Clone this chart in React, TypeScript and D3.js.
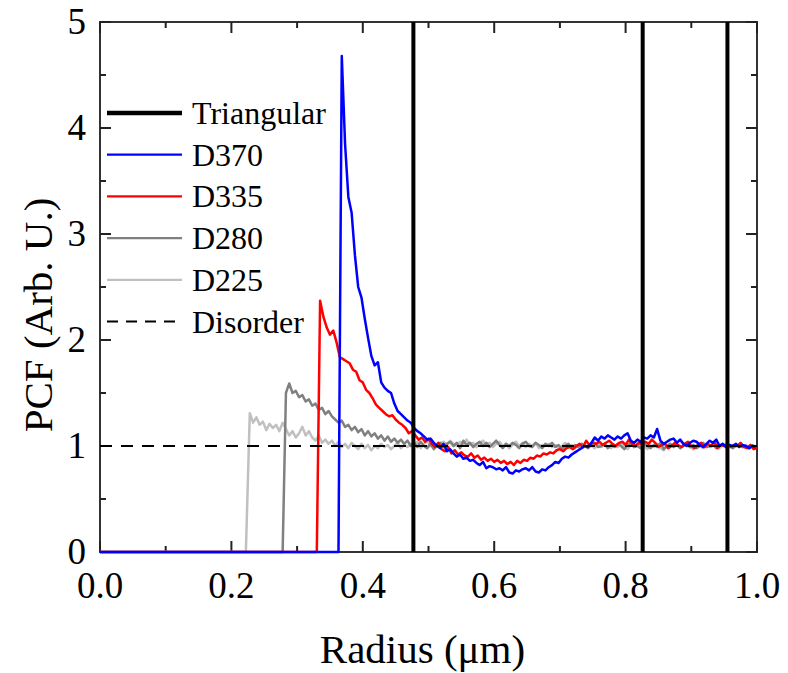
import React from "react";
import * as d3 from "d3";

const W = 788;
const H = 673;
const STEP = 0.005;

// Triangular lattice peaks (vertical lines), radius in µm
const triangularPeaks = [0.477, 0.826, 0.955];
const disorderLevel = 1;

const xTicks = [0, 0.2, 0.4, 0.6, 0.8, 1.0];
const xMinor = [0.1, 0.3, 0.5, 0.7, 0.9];
const yTicks = [0, 1, 2, 3, 4, 5];
const yMinor = [0.5, 1.5, 2.5, 3.5, 4.5];

// D370: rise at 0.363, values from 0.368 every 0.005
const d370Rise = 0.363;
const d370Start = 0.368;
const d370 = [
  4.68, 3.85, 3.35, 3.2, 2.8, 2.5, 2.4, 2.2, 2.02, 1.85,
  1.76, 1.79, 1.6, 1.55, 1.52, 1.5, 1.4, 1.33, 1.3, 1.27,
  1.24, 1.22, 1.17, 1.14, 1.12, 1.09, 1.06, 1.07, 1.03, 1.0,
  0.98, 1.02, 0.95, 0.97, 0.93, 0.9, 0.92, 0.88, 0.89, 0.86,
  0.87, 0.84, 0.82, 0.85, 0.79, 0.81, 0.8, 0.78, 0.79, 0.77,
  0.8, 0.75, 0.74, 0.77, 0.76, 0.78, 0.79, 0.77, 0.8, 0.76,
  0.75, 0.78, 0.77, 0.8, 0.82, 0.85, 0.84, 0.88, 0.9, 0.89,
  0.92, 0.94, 0.96, 0.98, 1.0, 0.99, 1.03, 1.08, 1.05, 1.09,
  1.07, 1.1, 1.08, 1.06, 1.09, 1.07, 1.1, 1.12, 1.05, 1.03,
  1.06, 1.04, 1.08, 1.07, 1.1, 1.08, 1.16, 1.05, 1.02, 1.04,
  1.06, 1.07, 1.03, 1.06, 1.02, 1.0, 1.03, 1.05, 1.04, 1.01,
  0.99, 1.02, 1.05, 1.03, 1.06, 1.0, 1.02, 0.99, 1.01, 1.0,
  1.02, 0.99, 1.01, 1.0, 0.98, 1.0, 0.99,
];

// D335: rise at 0.330, values from 0.335 every 0.005
const d335Rise = 0.33;
const d335Start = 0.335;
const d335 = [
  2.37, 2.22, 2.12, 2.05, 2.09, 1.98, 1.84, 1.82, 1.8, 1.78,
  1.72, 1.7, 1.62, 1.6, 1.53, 1.5, 1.45, 1.39, 1.36, 1.33,
  1.3, 1.28, 1.29, 1.25, 1.22, 1.2, 1.17, 1.12, 1.14, 1.1,
  1.06, 1.08, 1.04, 1.07, 1.02, 0.99, 1.03, 0.97, 0.95, 0.99,
  0.93, 0.96, 0.92, 0.94, 0.91, 0.9, 0.93, 0.89, 0.91, 0.87,
  0.89, 0.86, 0.88, 0.85, 0.87, 0.84, 0.86, 0.83, 0.85, 0.82,
  0.86, 0.84, 0.87, 0.86, 0.89, 0.88, 0.91, 0.9, 0.93, 0.92,
  0.94, 0.93, 0.96, 0.97, 0.95, 0.98, 0.99, 0.97, 1.0, 1.02,
  0.99, 1.05, 1.01, 1.03, 1.02, 1.04, 1.01, 1.03, 1.05, 1.02,
  1.0, 1.03, 1.04, 1.01, 1.06, 1.02, 1.0, 1.03, 1.01, 1.04,
  1.02, 1.06, 1.03, 0.99, 1.01, 1.02, 0.98, 1.0, 1.03, 1.01,
  0.99, 1.02, 1.04, 1.0, 0.98, 1.01, 1.03, 0.99, 1.02, 1.0,
  1.04, 0.98, 1.01, 1.0, 1.02, 0.99, 1.01, 1.0, 1.03, 0.99,
  0.98, 1.01, 0.97, 0.98,
];

// D280: rise at 0.278, values from 0.283 every 0.005
const d280Rise = 0.278;
const d280Start = 0.283;
const d280 = [
  1.5, 1.59, 1.5, 1.52, 1.46, 1.48, 1.42, 1.44, 1.38, 1.4,
  1.34, 1.36, 1.3, 1.33, 1.28, 1.25, 1.22, 1.24, 1.18, 1.2,
  1.15, 1.18, 1.13, 1.16, 1.1, 1.14, 1.09, 1.12, 1.07, 1.1,
  1.05, 1.09, 1.04, 1.07, 1.03, 1.06, 1.02, 1.05, 1.0, 1.03,
  0.99, 1.04, 1.0, 0.98, 1.02, 0.97, 1.01, 1.03, 0.99, 1.02,
  1.04, 1.0, 1.03, 0.98, 1.05, 1.01, 1.03, 0.99, 1.02, 1.04,
  1.0, 1.03, 0.99, 1.02, 1.05, 1.01, 0.98, 1.02, 1.0, 1.03,
  1.01, 0.98, 1.02, 1.04, 1.0, 0.99, 1.03, 1.01, 0.98, 1.02,
  1.0, 1.03, 0.99, 1.01, 0.97, 1.0, 1.02, 0.98, 1.01, 0.99,
  1.02, 1.0, 0.98, 1.01, 1.03, 0.99, 1.0, 1.02, 0.98, 1.01,
  0.99, 1.02, 1.0, 0.97, 1.01, 1.03, 0.99, 1.0, 0.98, 1.02,
  1.0, 0.98, 1.01, 0.99, 1.03, 0.97, 1.0, 1.02, 0.99, 1.01,
  0.98, 1.0, 1.02, 0.99, 1.01, 0.98, 1.0, 1.03, 0.99, 1.0,
  1.01, 0.98, 1.0, 1.02, 0.99, 1.01, 0.98, 1.0, 1.01, 0.99,
  1.0, 0.98, 1.01, 0.99,
];

// D225: rise at 0.222, values from 0.228 every 0.005
const d225Rise = 0.222;
const d225Start = 0.228;
const d225 = [
  1.31, 1.22, 1.27, 1.2, 1.23, 1.15, 1.21, 1.17, 1.2, 1.14,
  1.22, 1.16, 1.1, 1.14, 1.08, 1.12, 1.18, 1.1, 1.14, 1.08,
  1.05, 1.1, 1.03, 1.06, 1.02, 1.05, 1.0, 1.04, 0.99, 1.02,
  0.98, 1.03, 1.0, 0.97, 1.02, 0.98, 1.01, 0.96, 1.0, 0.98,
  1.02, 0.99, 1.01, 0.97, 1.0, 1.03, 0.98, 1.01, 0.99, 1.02,
  1.0, 1.04, 0.98, 1.02, 1.05, 1.0, 1.03, 0.99, 1.02, 1.04,
  1.01, 1.05, 1.02, 1.0, 1.04, 1.02, 1.06, 1.01, 1.03, 0.99,
  1.02, 1.05, 1.01, 1.03, 0.99, 1.02, 1.04, 1.0, 1.02, 0.98,
  1.01, 1.04, 1.0, 1.03, 0.99, 1.02, 1.0, 1.03, 0.98, 1.01,
  1.0, 1.02, 0.99, 1.01, 0.98, 1.0, 1.03, 0.99, 1.01, 0.98,
  1.0, 1.02, 0.99, 1.01, 1.0, 0.98, 1.02, 0.99, 1.01, 1.0,
  0.98, 1.01, 0.99, 1.02, 1.0, 0.97, 1.01, 0.99, 1.02, 0.98,
  1.0, 0.97, 1.01, 0.99, 1.02, 0.98, 0.96, 1.0, 1.02, 0.99,
  1.01, 0.98, 1.0, 1.02, 0.99, 0.97, 1.01, 1.0, 0.98, 1.01,
  0.99, 1.0, 1.02, 0.98, 1.01, 0.99, 1.0, 0.98, 1.01, 1.0,
  0.99, 1.01, 0.98, 1.0, 0.99,
];

const seriesNames = ["D225", "D280", "D335", "D370"];
const seriesColors = ["#c0c0c0", "#808080", "#ff0000", "#0000ff"];
const seriesRise = [d225Rise, d280Rise, d335Rise, d370Rise];
const seriesStart = [d225Start, d280Start, d335Start, d370Start];
const seriesValues = [d225, d280, d335, d370];

const legendLabels = ["Triangular", "D370", "D335", "D280", "D225", "Disorder"];
const legendColors = ["#000", "#0000ff", "#ff0000", "#808080", "#c0c0c0", "#000"];

const FONT = "'Liberation Serif', 'Times New Roman', serif";

export default function App() {
  const left = 100, right = 757, top = 22, bottom = 552;
  const x = d3.scaleLinear().domain([0, 1]).range([left, right]);
  const y = d3.scaleLinear().domain([0, 5]).range([bottom, top]);
  const line = d3
    .line<[number, number]>()
    .x((d) => x(d[0]))
    .y((d) => y(d[1]));

  const buildPoints = (i: number): [number, number][] => {
    const pts: [number, number][] = [
      [0, 0],
      [seriesRise[i], 0],
    ];
    seriesValues[i].forEach((v, k) => {
      const xv = seriesStart[i] + k * STEP;
      if (xv <= 1.0001) pts.push([xv, v]);
    });
    return pts;
  };

  const legendY = (i: number) => 113 + i * 41.7;

  return (
    <svg
      width={W}
      height={H}
      style={{ position: "absolute", left: 0, top: 0, background: "#fff" }}
      fontFamily={FONT}
    >
      <rect x={0} y={0} width={W} height={H} fill="#fff" />
      {/* frame */}
      <rect
        x={left}
        y={top}
        width={right - left}
        height={bottom - top}
        fill="none"
        stroke="#333"
        strokeWidth={2}
      />
      {/* x ticks */}
      {xTicks.map((t) => (
        <g key={"xt" + t}>
          <line x1={x(t)} x2={x(t)} y1={bottom} y2={bottom - 11} stroke="#222" strokeWidth={2} />
          <line x1={x(t)} x2={x(t)} y1={top} y2={top + 11} stroke="#222" strokeWidth={2} />
          <text x={x(t)} y={598} textAnchor="middle" fontSize={37} fill="#000">
            {t.toFixed(1)}
          </text>
        </g>
      ))}
      {xMinor.map((t) => (
        <g key={"xm" + t}>
          <line x1={x(t)} x2={x(t)} y1={bottom} y2={bottom - 6} stroke="#222" strokeWidth={2} />
          <line x1={x(t)} x2={x(t)} y1={top} y2={top + 6} stroke="#222" strokeWidth={2} />
        </g>
      ))}
      {/* y ticks */}
      {yTicks.map((t) => (
        <g key={"yt" + t}>
          <line x1={left} x2={left + 11} y1={y(t)} y2={y(t)} stroke="#222" strokeWidth={2} />
          <line x1={right} x2={right - 11} y1={y(t)} y2={y(t)} stroke="#222" strokeWidth={2} />
          <text x={86} y={y(t) + 12} textAnchor="end" fontSize={37} fill="#000">
            {t}
          </text>
        </g>
      ))}
      {yMinor.map((t) => (
        <g key={"ym" + t}>
          <line x1={left} x2={left + 6} y1={y(t)} y2={y(t)} stroke="#222" strokeWidth={2} />
          <line x1={right} x2={right - 6} y1={y(t)} y2={y(t)} stroke="#222" strokeWidth={2} />
        </g>
      ))}
      {/* series */}
      {seriesNames.map((n, i) => (
        <path
          key={n}
          d={line(buildPoints(i)) || ""}
          fill="none"
          stroke={seriesColors[i]}
          strokeWidth={2.5}
          strokeLinejoin="round"
        />
      ))}
      {/* disorder */}
      <line
        x1={x(0)}
        x2={x(1)}
        y1={y(disorderLevel)}
        y2={y(disorderLevel)}
        stroke="#000"
        strokeWidth={2.2}
        strokeDasharray="12,9"
      />
      {/* triangular peaks */}
      {triangularPeaks.map((p) => (
        <line key={"tp" + p} x1={x(p)} x2={x(p)} y1={top} y2={bottom} stroke="#000" strokeWidth={4} />
      ))}
      {/* legend */}
      {legendLabels.map((lab, i) => (
        <g key={"lg" + lab}>
          <line
            x1={107}
            x2={182}
            y1={legendY(i)}
            y2={legendY(i)}
            stroke={legendColors[i]}
            strokeWidth={i === 0 ? 4.5 : 2.2}
            strokeDasharray={lab === "Disorder" ? "11,8" : undefined}
          />
          <text x={192} y={legendY(i) + 11} fontSize={32} fill="#000">
            {lab}
          </text>
        </g>
      ))}
      {/* axis titles */}
      <text x={(left + right) / 2 - 6} y={663} textAnchor="middle" fontSize={41} fill="#000">
        Radius (μm)
      </text>
      <text
        transform={`translate(52, 315) rotate(-90)`}
        textAnchor="middle"
        fontSize={41}
        fill="#000"
      >
        PCF (Arb. U.)
      </text>
    </svg>
  );
}
